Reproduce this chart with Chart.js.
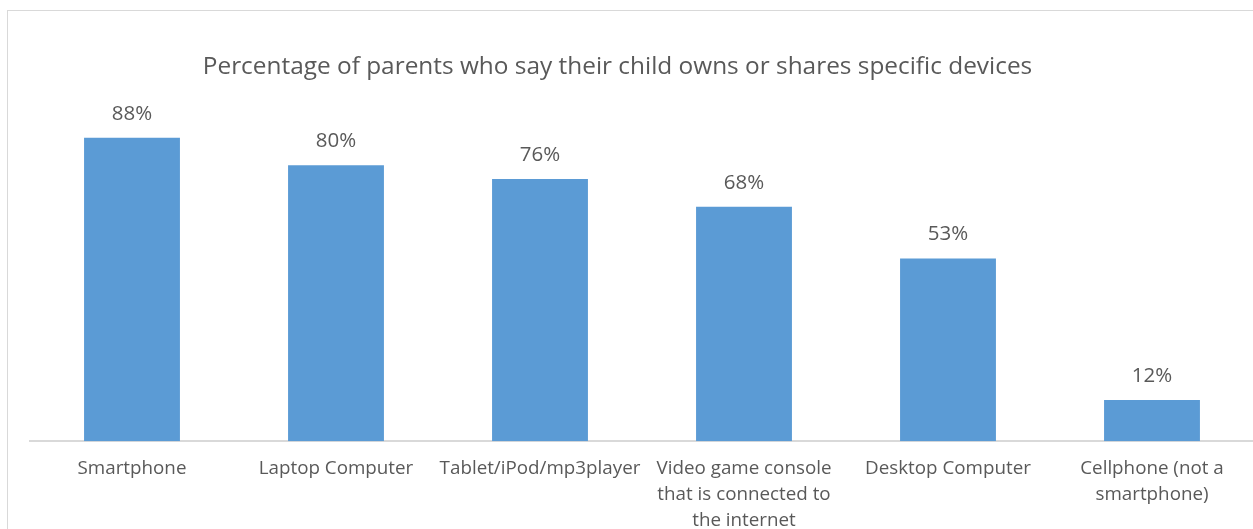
<!DOCTYPE html>
<html>
<head>
<meta charset="utf-8">
<script src="https://cdn.jsdelivr.net/npm/chart.js@4.4.1/dist/chart.umd.min.js"></script>
<style>
  html, body { margin: 0; padding: 0; background: #fff; overflow: hidden; }
  #frame {
    position: absolute; left: 7px; top: 10px;
    width: 1300px; height: 600px;
    border: 1px solid #d9d9d9;
  }
  #wrap { position: absolute; left: -40px; top: 0; }
</style>
</head>
<body>
<div id="frame"></div>
<div id="wrap"><canvas id="devices" width="1300" height="560"></canvas></div>
<script>
const categories = [
  'Smartphone',
  'Laptop Computer',
  'Tablet/iPod/mp3player',
  ['Video game console', 'that is connected to', 'the internet'],
  'Desktop Computer',
  ['Cellphone (not a', 'smartphone)']
];
const shares = [88, 80, 76, 68, 53, 12];

const textColor = '#595959';
const fontFamily = '"Open Sans", sans-serif';

// percent labels above each bar
const barLabels = {
  id: 'barLabels',
  afterDatasetsDraw(chart) {
    const ctx = chart.ctx;
    const meta = chart.getDatasetMeta(0);
    ctx.save();
    ctx.font = '20.5px ' + fontFamily;
    ctx.fillStyle = textColor;
    ctx.textAlign = 'center';
    ctx.textBaseline = 'middle';
    meta.data.forEach((bar, i) => {
      ctx.fillText(shares[i] + '%', bar.x, bar.y - 24);
    });
    ctx.restore();
  }
};

new Chart(document.getElementById('devices'), {
  type: 'bar',
  data: {
    labels: categories,
    datasets: [{
      data: shares,
      backgroundColor: '#5b9bd5',
      borderWidth: 0,
      barPercentage: 0.47,
      categoryPercentage: 1
    }]
  },
  options: {
    responsive: false,
    animation: false,
    layout: { padding: { left: 21, right: 6, top: 0, bottom: 12 } },
    plugins: {
      legend: { display: false },
      tooltip: { enabled: false },
      title: {
        display: true,
        text: 'Percentage of parents who say their child owns or shares specific devices',
        color: textColor,
        font: { family: fontFamily, size: 24.4, weight: 'normal', lineHeight: 1.2 },
        padding: { top: 52, bottom: 15 }
      }
    },
    scales: {
      x: {
        grid: { display: false, drawTicks: false },
        border: { display: true, color: '#d9d9d9', width: 2 },
        ticks: {
          color: textColor,
          padding: 15,
          maxRotation: 0,
          autoSkip: false,
          font: { family: fontFamily, size: 18.8, lineHeight: 1.36 }
        }
      },
      y: {
        min: 0,
        max: 100,
        grid: { display: false, drawTicks: false },
        border: { display: false },
        ticks: { display: false },
        afterFit(scale) { scale.width = 49; }
      }
    }
  },
  plugins: [barLabels]
});
</script>
</body>
</html>
